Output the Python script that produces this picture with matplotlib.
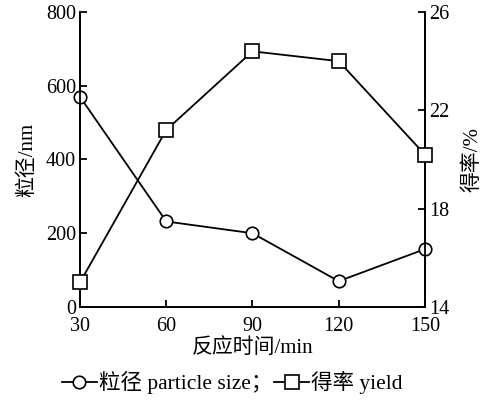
import matplotlib
matplotlib.use("Agg")
import matplotlib.pyplot as plt
from matplotlib.lines import Line2D

plt.rcParams['font.family'] = ['Liberation Serif', 'Noto Sans CJK SC', 'DejaVu Sans']
plt.rcParams['font.size'] = 14

# data
time_min = [30, 60, 90, 120, 150]
particle_size = [570, 232, 200, 70, 157]
yield_pct = [15.0, 21.2, 24.4, 24.0, 20.2]

left_ticks = [0, 200, 400, 600, 800]
right_ticks = [14, 18, 22, 26]

fig = plt.figure(figsize=(4.89, 4.0), dpi=100)
ax = fig.add_axes([0.1636, 0.2325, 0.7054, 0.7375])
ax2 = ax.twinx()

ax.plot(time_min, particle_size, color='black', linewidth=1.3, marker='o',
        markersize=9, markerfacecolor='white', markeredgecolor='black',
        markeredgewidth=1.2, clip_on=False, zorder=3)
ax2.plot(time_min, yield_pct, color='black', linewidth=1.3, marker='s',
         markersize=9.5, markerfacecolor='white', markeredgecolor='black',
         markeredgewidth=1.2, clip_on=False, zorder=3)

ax.set_xlim(30, 150)
ax.set_ylim(0, 800)
ax2.set_ylim(14, 26)
ax.set_xticks(time_min)
ax.set_yticks(left_ticks)
ax2.set_yticks(right_ticks)

for a in (ax, ax2):
    a.spines['top'].set_visible(False)
    for s in a.spines.values():
        s.set_linewidth(1.3)
ax.tick_params(direction='in', length=5, width=1.3, labelsize=14.5, pad=3)
ax.tick_params(axis='x', pad=7)
ax2.tick_params(direction='in', length=5, width=1.3, labelsize=14.5, pad=3)

ax.set_xlabel('反应时间/min', fontsize=15, labelpad=2)
ax.set_ylabel('粒径/nm', fontsize=15, labelpad=6)
ax2.set_ylabel('得率/%', fontsize=15, labelpad=10)

handles = [
    Line2D([], [], color='black', linewidth=1.3, marker='o', markersize=9,
           markerfacecolor='white', markeredgewidth=1.2),
    Line2D([], [], color='black', linewidth=1.3, marker='s', markersize=9.5,
           markerfacecolor='white', markeredgewidth=1.2),
]
fig.legend(handles, ['粒径 particle size；', '得率 yield'], loc='center',
           bbox_to_anchor=(0.475, 0.043), ncol=2, frameon=False, fontsize=15.5,
           handlelength=1.6, handletextpad=0.1, columnspacing=0.1)

fig.savefig('out.png', dpi=100)
